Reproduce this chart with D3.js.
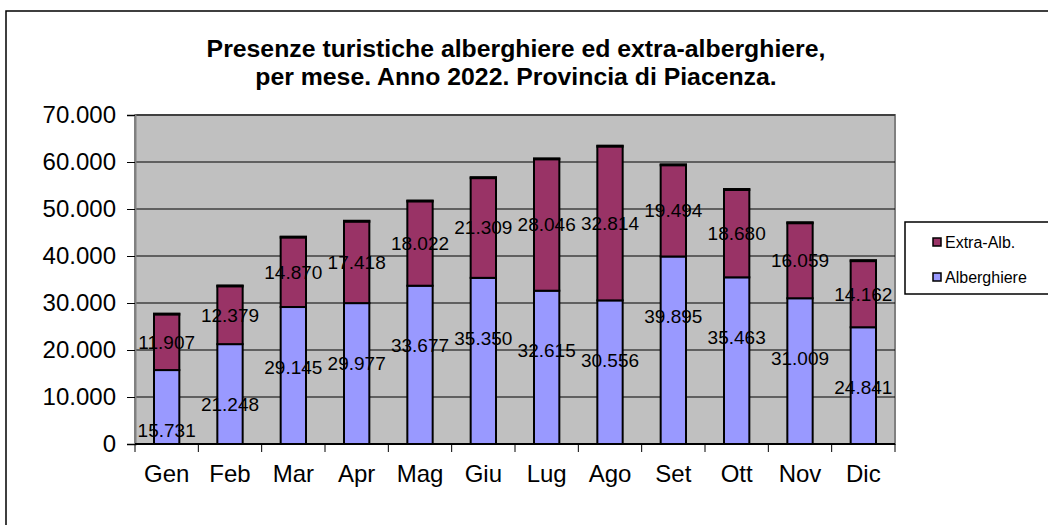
<!DOCTYPE html>
<html>
<head>
<meta charset="utf-8">
<script src="https://cdn.jsdelivr.net/npm/d3@7"></script>
<style>
  html, body { margin: 0; padding: 0; background: #fff; }
  svg { display: block; font-family: "Liberation Sans", Arial, sans-serif; }
</style>
</head>
<body>
<svg id="chart" width="1048" height="525"></svg>
<script>
const months = ["Gen", "Feb", "Mar", "Apr", "Mag", "Giu", "Lug", "Ago", "Set", "Ott", "Nov", "Dic"];
const alberghiere = [15731, 21248, 29145, 29977, 33677, 35350, 32615, 30556, 39895, 35463, 31009, 24841];
const extraAlb = [11907, 12379, 14870, 17418, 18022, 21309, 28046, 32814, 19494, 18680, 16059, 14162];
const yTicks = [0, 10000, 20000, 30000, 40000, 50000, 60000, 70000];
const seriesNames = ["Extra-Alb.", "Alberghiere"];
const titleLines = ["Presenze turistiche alberghiere ed extra-alberghiere,", "per mese. Anno 2022. Provincia di Piacenza."];

const colAlb = "#9999ff", colExtra = "#993366";
const itLocale = d3.formatLocale({decimal: ",", thousands: ".", grouping: [3], currency: ["", "€"]});
const fmt = itLocale.format(",d");

const svg = d3.select("#chart");
const plot = {left: 135, right: 895, top: 115, bottom: 444};

// outer chart border
svg.append("rect").attr("x", 6).attr("y", 11).attr("width", 1100).attr("height", 600)
  .attr("fill", "none").attr("stroke", "#000").attr("stroke-width", 1.5);

// title
const title = svg.append("text").attr("text-anchor", "middle").attr("font-weight", "bold")
  .attr("font-size", 24.8).attr("fill", "#000");
titleLines.forEach((t, i) => title.append("tspan").attr("x", 516).attr("y", 57 + i * 28).text(t));

const x = d3.scaleBand().domain(months).range([plot.left, plot.right]).paddingInner(0.6).paddingOuter(0.3);
const y = d3.scaleLinear().domain([0, 70000]).range([plot.bottom, plot.top]);

// plot area background
svg.append("rect").attr("x", plot.left).attr("y", plot.top)
  .attr("width", plot.right - plot.left).attr("height", plot.bottom - plot.top)
  .attr("fill", "#c0c0c0").attr("stroke", "#808080").attr("stroke-width", 2);

// gridlines
svg.append("g").selectAll("line").data(yTicks.filter(d => d > 0)).join("line")
  .attr("x1", plot.left).attr("x2", plot.right)
  .attr("y1", d => y(d)).attr("y2", d => y(d))
  .attr("stroke", "#000").attr("stroke-width", 1);

// y axis
const yAxis = svg.append("g").attr("transform", `translate(${plot.left},0)`)
  .call(d3.axisLeft(y).tickValues(yTicks).tickFormat(d => fmt(d)).tickSize(8).tickPadding(11));
yAxis.select(".domain").attr("stroke", "#808080").attr("stroke-width", 2);
yAxis.selectAll(".tick line").attr("stroke", "#000");
yAxis.selectAll(".tick text").attr("font-size", 24).attr("fill", "#000")
  .attr("font-family", "'Liberation Sans', Arial, sans-serif");

// bars
const stacked = months.map((m, i) => ({m, a: alberghiere[i], e: extraAlb[i]}));
const g = svg.append("g");
g.selectAll("rect.alb").data(stacked).join("rect").attr("class", "alb")
  .attr("x", d => x(d.m)).attr("width", x.bandwidth())
  .attr("y", d => y(d.a)).attr("height", d => y(0) - y(d.a))
  .attr("fill", colAlb).attr("stroke", "#000").attr("stroke-width", 2);
g.selectAll("rect.ext").data(stacked).join("rect").attr("class", "ext")
  .attr("x", d => x(d.m)).attr("width", x.bandwidth())
  .attr("y", d => y(d.a + d.e)).attr("height", d => y(d.a) - y(d.a + d.e))
  .attr("fill", colExtra).attr("stroke", "#000").attr("stroke-width", 2);
g.selectAll("line.top").data(stacked).join("line").attr("class", "top")
  .attr("x1", d => x(d.m) - 1).attr("x2", d => x(d.m) + x.bandwidth() + 1)
  .attr("y1", d => y(d.a + d.e)).attr("y2", d => y(d.a + d.e))
  .attr("stroke", "#000").attr("stroke-width", 3);

// category axis
const xAxisG = svg.append("g");
xAxisG.append("line").attr("x1", plot.left).attr("x2", plot.right)
  .attr("y1", plot.bottom).attr("y2", plot.bottom).attr("stroke", "#000").attr("stroke-width", 2);
const bounds = d3.range(months.length + 1).map(i => plot.left + i * x.step());
xAxisG.selectAll("line.tk").data(bounds).join("line").attr("class", "tk")
  .attr("x1", d => d).attr("x2", d => d).attr("y1", plot.bottom).attr("y2", plot.bottom + 8)
  .attr("stroke", "#000").attr("stroke-width", 1);
xAxisG.selectAll("text").data(months).join("text")
  .attr("x", d => x(d) + x.bandwidth() / 2).attr("y", 482)
  .attr("text-anchor", "middle").attr("font-size", 24).attr("fill", "#000").text(d => d);

// data labels
const lbl = svg.append("g").attr("font-size", 19).attr("fill", "#000").attr("text-anchor", "middle");
lbl.selectAll("text.le").data(stacked).join("text").attr("class", "le")
  .attr("x", d => x(d.m) + x.bandwidth() / 2)
  .attr("y", d => y(d.a + d.e / 2)).attr("dy", "0.35em").text(d => fmt(d.e));
lbl.selectAll("text.la").data(stacked).join("text").attr("class", "la")
  .attr("x", d => x(d.m) + x.bandwidth() / 2)
  .attr("y", d => y(d.a) + 60).attr("dy", "0.35em").text(d => fmt(d.a));

// legend
const leg = svg.append("g");
leg.append("rect").attr("x", 905).attr("y", 222).attr("width", 200).attr("height", 72)
  .attr("fill", "#fff").attr("stroke", "#000").attr("stroke-width", 1.5);
const legColors = [colExtra, colAlb];
seriesNames.forEach((n, i) => {
  const cy = 242 + i * 35;
  leg.append("rect").attr("x", 933).attr("y", cy - 4).attr("width", 8).attr("height", 8)
    .attr("fill", legColors[i]).attr("stroke", "#000").attr("stroke-width", 1.5);
  leg.append("text").attr("x", 945).attr("y", cy).attr("dy", "0.35em")
    .attr("font-size", 16).attr("fill", "#000").text(n);
});
</script>
</body>
</html>
